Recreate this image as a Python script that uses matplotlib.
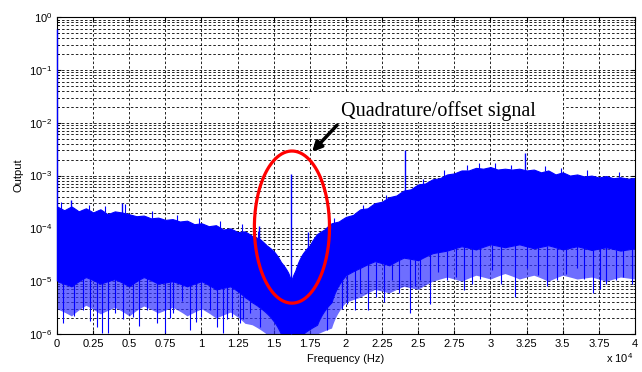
import numpy as np
import matplotlib
matplotlib.use("Agg")
import matplotlib.pyplot as plt
from matplotlib.ticker import FixedLocator, NullFormatter

plt.rcParams['font.family'] = ['Liberation Sans', 'DejaVu Sans']
plt.rcParams['font.size'] = 8
plt.rcParams['mathtext.fontset'] = 'custom'
plt.rcParams['mathtext.rm'] = 'Liberation Sans'

# upper edge of the noise band (Hz, amplitude)
top_freq = [0, 500, 1000, 1500, 2000, 2500, 3000, 3500, 4000, 4500, 5000, 5500,
            6000, 6500, 7000, 7500, 8000, 8500, 9000, 9500, 10000, 10500, 11000,
            11500, 12000, 12500, 13000, 13500, 14000, 14500, 15000, 15500, 16000,
            16200, 16500, 17000, 17500, 18000, 18500, 19000, 19500, 20000, 20500,
            21000, 21500, 22000, 22500, 23000, 23500, 24000, 24500, 25000, 25500,
            26000, 26500, 27000, 27500, 28000, 28500, 29000, 29500, 30000, 30500,
            31000, 31500, 32000, 32500, 33000, 33500, 34000, 34500, 35000, 35500,
            36000, 36500, 37000, 37500, 38000, 38500, 39000, 39500, 40000]
top_val = [2.6e-4, 2.2e-4, 2.6e-4, 2.1e-4, 2.4e-4, 2.0e-4, 2.3e-4, 1.85e-4, 2.1e-4,
           2.0e-4, 1.85e-4, 1.7e-4, 1.75e-4, 1.55e-4, 1.6e-4, 1.45e-4, 1.5e-4, 1.35e-4,
           1.4e-4, 1.2e-4, 1.25e-4, 1.1e-4, 1.15e-4, 9.5e-5, 1.0e-4, 8.5e-5, 8.8e-5,
           7.2e-5, 6.4e-5, 4.8e-5, 3.7e-5, 2.3e-5, 1.45e-5, 1.0e-5, 1.6e-5, 3.3e-5,
           4.8e-5, 7.8e-5, 9.5e-5, 1.25e-4, 1.35e-4, 1.65e-4, 1.8e-4, 2.3e-4, 2.4e-4,
           3.0e-4, 3.2e-4, 3.9e-4, 4.2e-4, 5.2e-4, 5.5e-4, 6.8e-4, 7.1e-4, 8.5e-4,
           8.9e-4, 1.05e-3, 1.1e-3, 1.25e-3, 1.25e-3, 1.4e-3, 1.35e-3, 1.45e-3, 1.3e-3,
           1.35e-3, 1.3e-3, 1.35e-3, 1.25e-3, 1.3e-3, 1.15e-3, 1.25e-3, 1.05e-3, 1.15e-3,
           1.0e-3, 1.05e-3, 9.6e-4, 1.0e-3, 9.2e-4, 9.8e-4, 8.9e-4, 9.3e-4, 8.7e-4,
           9.0e-4]

# lower edges: solid core and spiky fringe
low_freq = [0, 1000, 2000, 3000, 4000, 5000, 6000, 7000, 8000, 9000, 10000, 11000,
            12000, 13000, 13500, 14500, 15500, 16200, 17000, 18000, 19000, 20000,
            21000, 22000, 23000, 24000, 25000, 26000, 27000, 28000, 29000, 30000,
            31000, 32000, 33000, 34000, 35000, 36000, 37000, 38000, 39000, 40000]
core_low = [1.0e-5, 8e-6, 1.2e-5, 9e-6, 1.1e-5, 8e-6, 1.2e-5, 9e-6, 1.0e-5, 8e-6,
            1.0e-5, 7e-6, 8e-6, 5e-6, 4e-6, 2.5e-6, 1e-6, 1e-6, 1e-6, 1.5e-6, 4e-6,
            1.3e-5, 1.8e-5, 2.4e-5, 2.0e-5, 2.8e-5, 2.5e-5, 3.4e-5, 3.8e-5, 4.6e-5,
            4.0e-5, 5.0e-5, 4.4e-5, 5.0e-5, 4.2e-5, 4.8e-5, 4.0e-5, 4.6e-5, 3.9e-5,
            4.4e-5, 3.8e-5, 4.2e-5]
fringe_low = [3e-6, 2.2e-6, 3.5e-6, 2.4e-6, 3.2e-6, 2.2e-6, 3.4e-6, 2.5e-6, 3.2e-6,
              2.2e-6, 3.0e-6, 2.0e-6, 2.6e-6, 1.6e-6, 1.5e-6, 1e-6, 1e-6, 1e-6, 1e-6,
              1e-6, 1.3e-6, 4e-6, 5e-6, 7e-6, 6e-6, 8e-6, 7e-6, 1.0e-5, 1.2e-5,
              1.0e-5, 1.3e-5, 1.1e-5, 1.4e-5, 1.1e-5, 1.3e-5, 1.0e-5, 1.3e-5, 1.1e-5,
              1.2e-5, 1.0e-5, 1.2e-5, 1.1e-5]

# deep downward spikes
dip_freq = [440, 1200, 1820, 2300, 2740, 3090, 3550, 4010, 4590, 5280, 5700, 6200,
            6900, 7470, 7800, 8050, 8630, 9200, 9600, 10000, 10600, 11050, 11500,
            11800, 12100, 12660, 12900, 13360, 14050, 18700, 19700, 20050, 20600,
            21000, 21500, 22100, 22600, 23200, 23700, 24400, 24800, 25100, 25800,
            26400, 27000, 27600, 28200, 28700, 29300, 30100, 30700, 31700, 32500,
            33300, 33900, 34600, 35200, 36000, 36500, 37100, 37600, 38000, 38700,
            39200, 39800]
dip_val = [1.6e-6, 2.2e-6, 2.8e-6, 1.8e-6, 1.35e-6, 1.05e-6, 1.05e-6, 2.5e-6, 1.9e-6,
           2.1e-6, 1.4e-6, 2.8e-6, 1.6e-6, 1.05e-6, 2.0e-6, 2.5e-6, 4.3e-6, 1.2e-6,
           1.7e-6, 2.1e-6, 2.8e-6, 1.35e-6, 1.05e-6, 1.9e-6, 2.1e-6, 1.6e-6, 1.9e-6,
           2.5e-6, 1.35e-6, 1.2e-6, 3e-6, 3.7e-6, 2.8e-6, 6e-6, 2.8e-6, 5e-6, 4e-6,
           1.05e-5, 6e-6, 2.5e-6, 8e-6, 1.05e-5, 3.7e-6, 1.5e-5, 1.05e-5, 1.2e-5,
           6.9e-6, 9e-6, 1.1e-5, 1.6e-5, 9e-6, 5e-6, 1.8e-5, 1.3e-5, 8e-6, 1.05e-5,
           1.4e-5, 1.8e-5, 1.1e-5, 6e-6, 7e-6, 9e-6, 1.05e-5, 1.2e-5, 9e-6]

# small hairs above the band
hair_freq = [300, 2200, 3300, 4700, 6600, 8300, 9800, 11300, 12800, 13900, 19200,
             21200, 22800, 25300, 26800, 28400, 29200, 30300, 31400, 33800, 34900,
             36700, 38900]
hair_val = [3.2e-4, 2.8e-4, 2.7e-4, 2.9e-4, 2.1e-4, 1.8e-4, 1.6e-4, 1.4e-4, 1.2e-4,
            9e-5, 1.6e-4, 2.8e-4, 4.3e-4, 8.5e-4, 1.25e-3, 1.6e-3, 1.7e-3, 1.75e-3,
            1.6e-3, 1.5e-3, 1.4e-3, 1.25e-3, 1.15e-3]

# upward spikes (DC, quadrature line, others)
peak_freq = [0, 1000, 4500, 14000, 16170, 17400, 24100, 32400]
peak_val = [0.6, 3.4e-4, 3.0e-4, 1.1e-4, 1.07e-3, 8.5e-5, 3.0e-3, 2.65e-3]

xtick_labels = ['0', '0.25', '0.5', '0.75', '1', '1.25', '1.5', '1.75', '2',
                '2.25', '2.5', '2.75', '3', '3.25', '3.5', '3.75', '4']
ytick_exps = [-6, -5, -4, -3, -2, -1, 0]

blue = '#0000ff'

fig = plt.figure(figsize=(6.42, 3.72), dpi=100)
ax = fig.add_axes([0.0888, 0.102, 0.9002, 0.852])
ax.set_yscale('log')
ax.set_xlim(0, 40000)
ax.set_ylim(1e-6, 1)

# noise band
fine = np.linspace(0, 40000, 4001)
top = np.interp(fine, top_freq, top_val)
core = np.interp(fine, low_freq, core_low)
fringe = np.interp(fine, low_freq, fringe_low)
ax.fill_between(fine, fringe, core, color='#3030ff', alpha=0.7, lw=0, zorder=2)
ax.fill_between(fine, core, top, color=blue, lw=0.8, edgecolor=blue, zorder=2)

# spikes
dip_top = np.interp(dip_freq, low_freq, core_low)
ax.vlines(dip_freq, dip_val, dip_top, color=blue, lw=0.8, zorder=2)
hair_base = np.interp(hair_freq, top_freq, top_val)
ax.vlines(hair_freq, hair_base, hair_val, color=blue, lw=0.8, zorder=2)
peak_base = np.interp(peak_freq, low_freq, core_low)
ax.vlines(peak_freq, peak_base, peak_val, color=blue, lw=1.0, zorder=3,
          clip_on=False)

# ticks and grid
ax.set_axisbelow(True)
ax.xaxis.set_major_locator(FixedLocator(np.arange(0, 40001, 2500)))
ax.set_xticklabels(xtick_labels)
ax.set_yticks([10.0 ** e for e in ytick_exps])
ax.set_yticklabels([r'$10^{%d}$' % e for e in ytick_exps])
minor_y = [m * 10.0 ** e for e in ytick_exps[:-1] for m in range(2, 10)]
ax.yaxis.set_minor_locator(FixedLocator(minor_y))
ax.yaxis.set_minor_formatter(NullFormatter())
ax.grid(True, which='major', color='black', lw=0.6, linestyle=(0, (3, 2.5)))
ax.grid(True, which='minor', axis='y', color='black', lw=0.6, linestyle=(0, (3, 2.5)))
ax.tick_params(which='both', direction='in', top=True, right=True, labelsize=8)
ax.tick_params(which='major', length=3)
ax.tick_params(which='minor', length=1.5)
for s in ax.spines.values():
    s.set_linewidth(0.8)

ax.set_xlabel('Frequency (Hz)', fontsize=8, labelpad=4)
ax.set_ylabel('Output', fontsize=8, labelpad=4)
fig.text(0.987, 0.02, r'x 10$^4$', ha='right', va='bottom', fontsize=8)

# annotation: white label box, arrow and ellipse
ax.fill_between([17500, 35000], 0.0103, 0.038, color='white', lw=0, zorder=1)
ax.text(26400, 0.0166, 'Quadrature/offset signal', ha='center', va='center',
        fontsize=14.5, family='Liberation Serif', zorder=4)
ax.annotate('', xy=(17650, 2.8e-3), xytext=(19380, 9e-3),
            arrowprops=dict(arrowstyle='-|>', color='black', lw=2.5,
                            mutation_scale=14, shrinkA=0, shrinkB=0), zorder=4)
t = np.linspace(0, 2 * np.pi, 300)
ax.plot(16260 + 2600 * np.cos(t), 10 ** (-3.975 + 1.44 * np.sin(t)),
        color='#ff0000', lw=2.3, zorder=5)

fig.savefig('out.png', dpi=100)
